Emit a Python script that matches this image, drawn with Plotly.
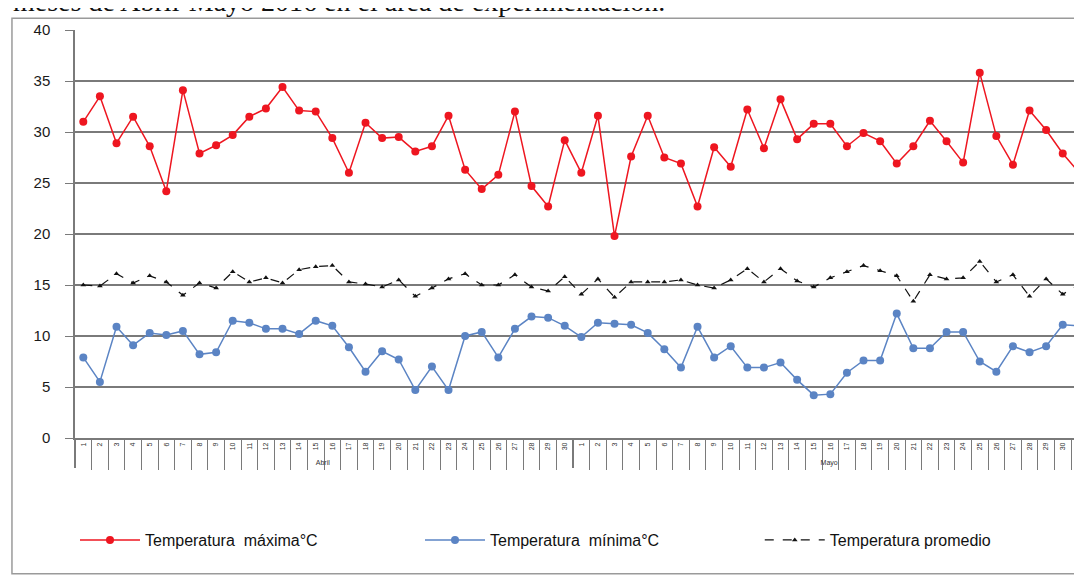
import plotly.graph_objects as go

months = ["Abril"] * 30 + ["Mayo"] * 31
days = [str(d) for d in range(1, 31)] + [str(d) for d in range(1, 32)]

t_max = [31.0, 33.5, 28.9, 31.5, 28.6, 24.2, 34.1, 27.9, 28.7, 29.7,
         31.5, 32.3, 34.4, 32.1, 32.0, 29.4, 26.0, 30.9, 29.4, 29.5,
         28.1, 28.6, 31.6, 26.3, 24.4, 25.8, 32.0, 24.7, 22.7, 29.2,
         26.0, 31.6, 19.8, 27.6, 31.6, 27.5, 26.9, 22.7, 28.5, 26.6,
         32.2, 28.4, 33.2, 29.3, 30.8, 30.8, 28.6, 29.9, 29.1, 26.9,
         28.6, 31.1, 29.1, 27.0, 35.8, 29.6, 26.8, 32.1, 30.2, 27.9,
         26.0]

t_min = [7.9, 5.5, 10.9, 9.1, 10.3, 10.1, 10.5, 8.2, 8.4, 11.5,
         11.3, 10.7, 10.7, 10.2, 11.5, 11.0, 8.9, 6.5, 8.5, 7.7,
         4.7, 7.0, 4.7, 10.0, 10.4, 7.9, 10.7, 11.9, 11.8, 11.0,
         9.9, 11.3, 11.2, 11.1, 10.3, 8.7, 6.9, 10.9, 7.9, 9.0,
         6.9, 6.9, 7.4, 5.7, 4.2, 4.3, 6.4, 7.6, 7.6, 12.2,
         8.8, 8.8, 10.4, 10.4, 7.5, 6.5, 9.0, 8.4, 9.0, 11.1,
         11.0]

t_avg = [15.0, 14.9, 16.1, 15.2, 15.9, 15.3, 14.0, 15.2, 14.7, 16.3,
         15.3, 15.7, 15.2, 16.5, 16.8, 16.9, 15.3, 15.1, 14.8, 15.5,
         13.9, 14.7, 15.6, 16.1, 15.0, 15.0, 16.0, 14.8, 14.4, 15.8,
         14.1, 15.6, 13.8, 15.3, 15.3, 15.3, 15.5, 15.0, 14.7, 15.5,
         16.6, 15.3, 16.6, 15.4, 14.8, 15.7, 16.3, 16.9, 16.4, 15.9,
         13.4, 16.0, 15.6, 15.7, 17.3, 15.3, 16.0, 13.9, 15.6, 14.1,
         15.0]

y_ticks = [0, 5, 10, 15, 20, 25, 30, 35, 40]

x = [months, days]
fig = go.Figure()
fig.add_trace(go.Scatter(
    x=x, y=t_max, name="Temperatura  máxima°C", mode="lines+markers",
    line=dict(color="#EE1620", width=1.5), legend="legend",
    marker=dict(symbol="circle", size=8, color="#EE1620")))
fig.add_trace(go.Scatter(
    x=x, y=t_min, name="Temperatura  mínima°C", mode="lines+markers",
    line=dict(color="#5B84C4", width=1.5), legend="legend2",
    marker=dict(symbol="circle", size=8, color="#5B84C4")))
fig.add_trace(go.Scatter(
    x=x, y=t_avg, name="Temperatura promedio", mode="lines+markers",
    line=dict(color="#111111", width=1.2, dash="dash"), legend="legend3",
    marker=dict(symbol="triangle-up", size=5, color="#111111")))

leg_font = dict(size=16, family="Liberation Sans Narrow, Liberation Sans, Arial", color="#111111")
leg_common = dict(orientation="h", y=-0.25, xanchor="left", yanchor="middle",
                  font=leg_font, itemwidth=60, bgcolor="rgba(0,0,0,0)")

fig.update_layout(
    width=1082, height=576,
    margin=dict(l=67, r=8, t=22, b=146, autoexpand=False),
    paper_bgcolor="white", plot_bgcolor="white",
    font=dict(family="Liberation Sans, Arial", color="#222222"),
    showlegend=True,
    legend=dict(x=0.0, **leg_common),
    legend2=dict(x=0.3426, **leg_common),
    legend3=dict(x=0.680, **leg_common),
)

fig.update_yaxes(
    range=[0, 40], tickvals=y_ticks, showgrid=True, gridcolor="#7A7A7A", gridwidth=1.5,
    zeroline=False, showline=True, linecolor="#7A7A7A", linewidth=1.5,
    ticks="outside", ticklen=8, tickcolor="#7A7A7A", automargin=False,
    tickfont=dict(size=15, family="Liberation Sans, Arial", color="#1A1A1A"),
    ticklabelstandoff=12,
)
fig.update_xaxes(
    type="multicategory", range=[-0.5, 60.16], automargin=False,
    showline=True, linecolor="#7A7A7A", linewidth=1.5,
    ticks="outside", ticklen=30, tickcolor="#7A7A7A", tickson="boundaries",
    tickangle=-90, tickfont=dict(size=7, color="#333333"),
    showdividers=True, dividercolor="#7A7A7A", dividerwidth=1.5,
    showgrid=False,
)

# outer chart frame
fig.add_shape(type="rect", xref="paper", yref="paper",
              x0=-0.0626, x1=1.06, y0=-0.333, y1=1.029,
              line=dict(color="#9A9A9A", width=1.5), fillcolor="rgba(0,0,0,0)", layer="below")

fig.add_annotation(text="meses de Abril-Mayo 2016 en el área de experimentación.",
                   xref="paper", yref="paper", x=-0.064, y=1.026,
                   xanchor="left", yanchor="bottom", showarrow=False,
                   font=dict(family="Liberation Serif, DejaVu Serif", size=28, color="#111111"))

fig.write_html("out.html")
